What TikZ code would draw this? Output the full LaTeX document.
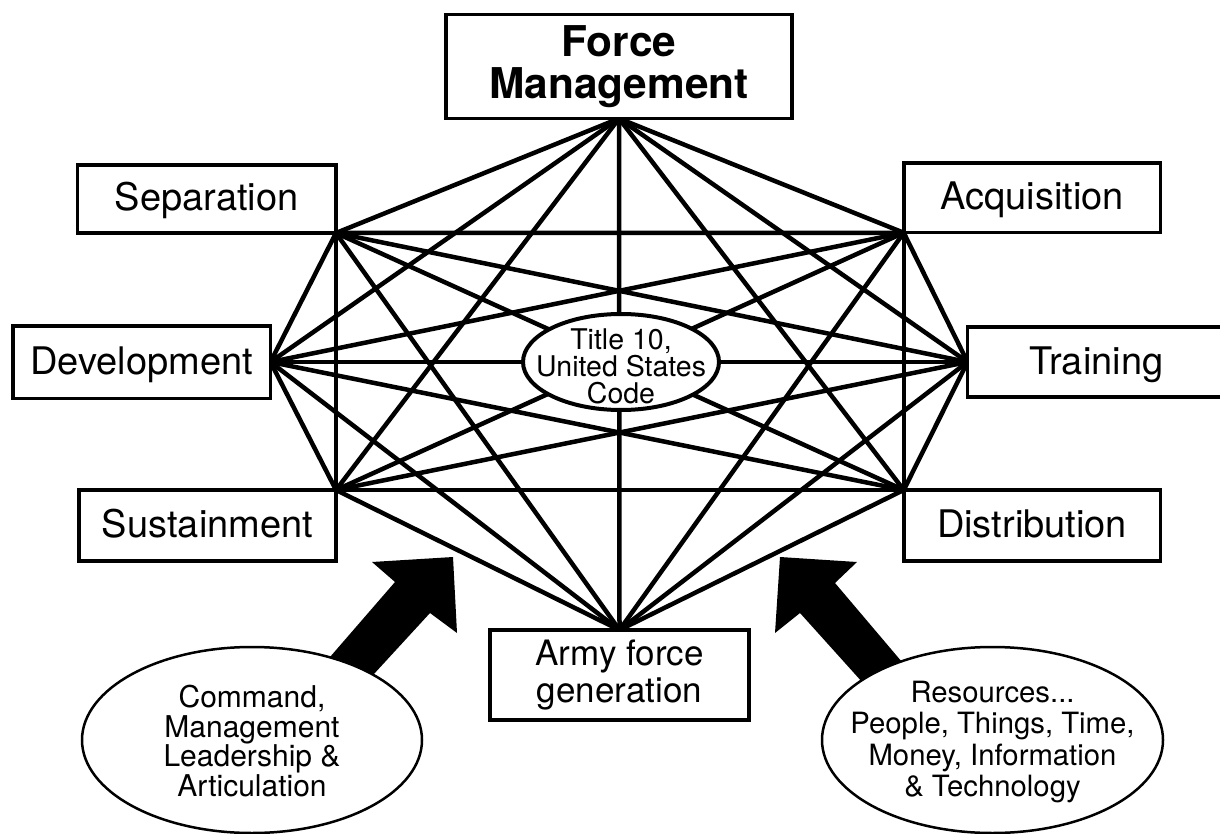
\documentclass[tikz,border=0pt]{standalone}
\usepackage{fontspec}
\setmainfont{TeX Gyre Heros}
\usetikzlibrary{shapes.geometric,backgrounds}
\begin{document}
\begin{tikzpicture}[x=1pt,y=-1pt,
  box/.style={draw,line width=3.5pt,fill=white,rectangle,inner sep=0pt,outer sep=0pt,
    align=center,font=\fontsize{38}{40}\selectfont,text height=28pt,text depth=4pt},
  bigbox/.style={draw,line width=3.5pt,fill=white,rectangle,inner sep=0pt,outer sep=0pt,align=center},
  link/.style={line width=4.5pt,line cap=round},
  hub/.style={draw,line width=4pt,fill=white,ellipse,inner sep=0pt,outer sep=0pt,
    minimum width=196pt,minimum height=96pt},
  src/.style={draw,line width=2.5pt,fill=white,ellipse,inner sep=0pt,outer sep=0pt,
    minimum width=340pt,minimum height=186pt},
  txt/.style={inner sep=0pt,align=center}]
\clip (0,0) rectangle (1220,834);

% boxes
\node[bigbox,minimum width=346pt,minimum height=104pt,
  font=\bfseries\fontsize{42.4}{42}\selectfont] (fm) at (619,66.5) {Force\\Management};
\node[box,minimum width=258.5pt,minimum height=68pt] (sep) at (206.75,199) {Separation};
\node[box,minimum width=256.5pt,minimum height=69.5pt] (acq) at (1032,198) {Acquisition};
\node[box,minimum width=257.5pt,minimum height=72.5pt] (dev) at (141.75,362) {Development};
\node[box,minimum width=258pt,minimum height=70pt] (tr) at (1096.5,362) {Training};
\node[box,minimum width=257pt,minimum height=71pt] (sus) at (207.5,525.5) {Sustainment};
\node[box,minimum width=256.5pt,minimum height=71pt] (dis) at (1032,525.5) {Distribution};
\node[bigbox,minimum width=259pt,minimum height=90pt,
  font=\fontsize{35}{37}\selectfont] (afg) at (619.5,675) {Army force\\generation};

% connectors (complete graph)
\begin{scope}[on background layer]
\fill[white] (0,0) rectangle (1220,834);
\foreach \a/\b in {
  fm.south/sep.south east, fm.south/acq.south west, fm.south/dev.east, fm.south/tr.west,
  fm.south/sus.north east, fm.south/dis.north west, fm.south/afg.north,
  sep.south east/acq.south west, sep.south east/dev.east, sep.south east/tr.west,
  sep.south east/sus.north east, sep.south east/dis.north west, sep.south east/afg.north,
  acq.south west/dev.east, acq.south west/tr.west, acq.south west/sus.north east,
  acq.south west/dis.north west, acq.south west/afg.north,
  dev.east/tr.west, dev.east/sus.north east, dev.east/dis.north west, dev.east/afg.north,
  tr.west/sus.north east, tr.west/dis.north west, tr.west/afg.north,
  sus.north east/dis.north west, sus.north east/afg.north,
  dis.north west/afg.north}
  {\draw[link] (\a) -- (\b);}
\end{scope}

% central ellipse
\node[hub] (title) at (621,362) {};
\node[txt,font=\fontsize{28.5}{27}\selectfont,yshift=-4pt] (titletxt) at (title.center)
  {Title 10,\\United States\\Code};

% block arrows
\fill (453,557) -- (372,562) -- (395,582) -- (317,672) -- (362,687) -- (430,613) -- (457,633) -- cycle;
\fill (780,557) -- (857,562) -- (835,583) -- (913,675) -- (872,693) -- (800,613) -- (775,633) -- cycle;

% source ellipses
\node[src] (cmd) at (252,740) {};
\node[txt,font=\fontsize{30}{29.7}\selectfont,yshift=-1pt] (cmdtxt) at (cmd.center)
  {Command,\\Management\\Leadership \&\\Articulation};
\node[src,minimum width=341pt] (res) at (992.5,740) {};
\node[txt,font=\fontsize{29.3}{31.5}\selectfont,yshift=-2pt] (restxt) at (res.center)
  {Resources...\\People, Things, Time,\\Money, Information\\\& Technology};
\end{tikzpicture}
\end{document}
